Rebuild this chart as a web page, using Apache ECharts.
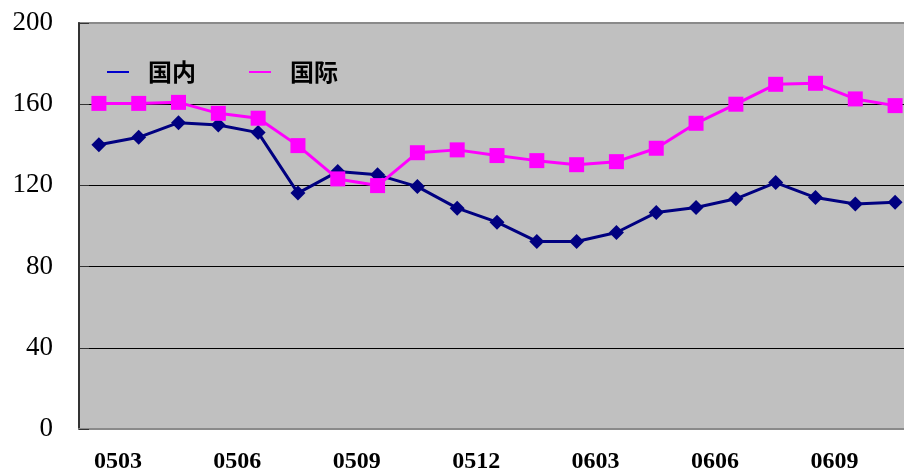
<!DOCTYPE html>
<html>
<head>
<meta charset="utf-8">
<script src="https://cdn.jsdelivr.net/npm/echarts@6/dist/echarts.min.js"></script>
<style>
  html, body { margin: 0; padding: 0; background: #ffffff; }
  #chart { width: 904px; height: 469px; }
</style>
</head>
<body>
<div id="chart"></div>
<script>
// Monthly index, March 2005 to November 2006
var months = ['0503', '0504', '0505', '0506', '0507', '0508', '0509', '0510', '0511', '0512',
              '0601', '0602', '0603', '0604', '0605', '0606', '0607', '0608', '0609', '0610', '0611'];

// 国内 (domestic)
var domestic = [140, 143.7, 150.9, 149.8, 146, 116.2, 126.8, 125.2, 119.4, 108.8,
                101.9, 92.4, 92.4, 96.8, 106.6, 109.1, 113.4, 121.4, 114, 110.8, 111.7];

// 国际 (international)
var international = [160.4, 160.4, 160.9, 155.5, 153.1, 139.6, 123.2, 119.9, 136.1, 137.5,
                     134.7, 132.2, 130.2, 131.7, 138.3, 150.6, 160, 169.8, 170.3, 162.6, 159.3];

var yTicks = { min: 0, max: 200, step: 40 };

var chart = echarts.init(document.getElementById('chart'), null, { renderer: 'canvas' });

chart.setOption({
  animation: false,
  backgroundColor: '#ffffff',
  grid: {
    left: 79,
    top: 23,
    right: -11,
    bottom: 40,
    containLabel: false,
    outerBoundsMode: 'none',
    show: true,
    backgroundColor: '#c0c0c0',
    borderColor: '#8a8a8a',
    borderWidth: 2
  },
  legend: {
    left: 107,
    top: 60,
    padding: 0,
    icon: 'rect',
    itemWidth: 22,
    itemHeight: 2,
    itemGap: 53,
    textStyle: {
      fontFamily: 'Noto Sans CJK SC',
      fontWeight: 'bold',
      fontSize: 24,
      color: '#000000',
      padding: [0, 0, 0, 14]
    },
    data: [
      { name: '国内', itemStyle: { color: '#0000cc' } },
      { name: '国际', itemStyle: { color: '#ff00ff' } }
    ]
  },
  xAxis: {
    type: 'category',
    data: months,
    boundaryGap: true,
    axisLine: { show: true, lineStyle: { color: '#8a8a8a', width: 2 } },
    axisTick: { show: false },
    splitLine: { show: false },
    axisLabel: {
      interval: 2,
      margin: 21,
      fontFamily: 'Liberation Serif',
      fontWeight: 'bold',
      fontSize: 24,
      color: '#000000',
      padding: [0, 0, 0, 38]
    }
  },
  yAxis: {
    type: 'value',
    min: yTicks.min,
    max: yTicks.max,
    interval: yTicks.step,
    axisLine: { show: true, lineStyle: { color: '#333333', width: 2 } },
    axisTick: { show: true, inside: true, length: 10, lineStyle: { color: '#333333', width: 1 } },
    splitLine: {
      show: true,
      showMinLine: false,
      showMaxLine: false,
      lineStyle: { color: '#000000', width: 1 }
    },
    axisLabel: {
      margin: 26,
      fontFamily: 'Liberation Serif',
      fontSize: 27,
      color: '#000000',
      padding: [6, 0, 0, 0]
    }
  },
  series: [
    {
      name: '国内',
      type: 'line',
      data: domestic,
      symbol: 'diamond',
      symbolSize: 15,
      lineStyle: { color: '#000080', width: 3 },
      itemStyle: { color: '#000080' },
      z: 3
    },
    {
      name: '国际',
      type: 'line',
      data: international,
      symbol: 'rect',
      symbolSize: 15,
      lineStyle: { color: '#ff00ff', width: 3 },
      itemStyle: { color: '#ff00ff' },
      z: 4
    }
  ]
});
</script>
</body>
</html>
